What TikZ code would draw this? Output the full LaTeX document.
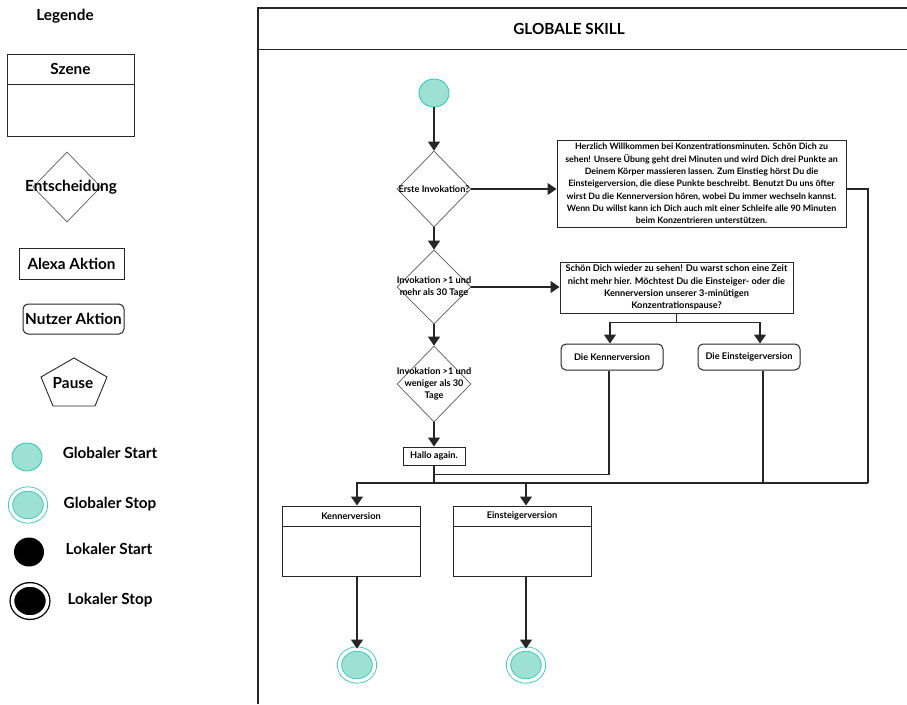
\documentclass[tikz,border=0pt]{standalone}
\usepackage{fontspec}
\setmainfont{Lato}
\usepackage{xcolor}
\usetikzlibrary{positioning,shapes.geometric,arrows.meta}

\definecolor{mint}{RGB}{156,225,212}
\definecolor{tuerkis}{RGB}{38,200,180}
\newcommand{\klein}{\fontsize{9.2}{12.3}\selectfont\bfseries}
\newcommand{\fliess}{\fontsize{8.8}{12.3}\selectfont\bfseries}
\newcommand{\gross}{\fontsize{15.3}{17}\selectfont\bfseries}

\tikzset{
  linie/.style={draw=black!85,line width=1.3pt},
  pfeil/.style={linie,-{Triangle[width=12pt,length=9pt]}},
  szene/.style={draw=black!85,line width=1pt,inner sep=0pt},
  alexa/.style={draw=black!85,line width=1pt,inner sep=0pt,align=center},
  nutzer/.style={alexa,rounded corners=5pt},
  entscheidung/.style={diamond,draw=black!65,line width=0.7pt,inner sep=0pt},
  gstart/.style={ellipse,draw=tuerkis,fill=mint,line width=0.8pt,inner sep=0pt},
  gstop/.style={gstart,double=white,double distance=3.5pt},
  lstart/.style={ellipse,fill=black,inner sep=0pt},
  lstop/.style={ellipse,draw=black,fill=black,line width=1.3pt,double=white,double distance=3.5pt,inner sep=0pt}
}

\begin{document}
\begin{tikzpicture}[x=1pt,y=-1pt]
\useasboundingbox (0,0) rectangle (907,704);

% Legende
\node[font=\gross] (legende) at (65,16) {Legende};
\node[szene,minimum width=127,minimum height=82] (lszene) at (70.5,95) {};
\node[szene,anchor=north,minimum width=127,minimum height=30,font=\gross] (lszenekopf) at (lszene.north) {Szene};
\node[entscheidung,minimum width=68,minimum height=70,
      label={[font=\gross,xshift=4pt]center:Entscheidung}] (lentsch) at (67,187) {};
\node[alexa,minimum width=105,minimum height=31,font=\gross] (lalexa) at (71.5,263.5) {Alexa Aktion};
\node[nutzer,minimum width=101,minimum height=30,font=\gross] (lnutzer) at (73.5,319) {Nutzer Aktion};
\draw[black!85,line width=0.9pt] (74,358) -- (107,377) -- (95,406) -- (53,406) -- (41,377) -- cycle;
\node[font=\gross] (lpause) at (73,383) {Pause};
\node[gstart,minimum width=30,minimum height=28] (lgstart) at (27,457) {};
\node[gstop,minimum width=35,minimum height=32] (lgstop) at (28,505) {};
\node[lstart,minimum width=30,minimum height=29] (llstart) at (29,552) {};
\node[lstop,minimum width=35,minimum height=32] (llstop) at (30,601) {};
\node[font=\gross] (tgstart) at (110,453) {Globaler Start};
\node[font=\gross] (tgstop) at (110,504) {Globaler Stop};
\node[font=\gross] (tlstart) at (109,549) {Lokaler Start};
\node[font=\gross] (tlstop) at (110,600) {Lokaler Stop};

% Rahmen
\draw[black!85,line width=1.3pt] (258,704) -- (258,8) -- (907,8);
\draw[black!85,line width=1pt] (258,49) -- (907,49);
\node[font=\gross] (titel) at (569,29) {GLOBALE SKILL};

% Ablauf
\node[gstart,minimum width=30,minimum height=28] (start) at (434,93) {};
\node[entscheidung,minimum width=74,minimum height=76,
      label={[font=\klein]center:Erste Invokation?}] (d1) at (434,189) {};
\node[entscheidung,minimum width=74,minimum height=74,
      label={[font=\klein,align=center]center:{Invokation >1 und\\mehr als 30 Tage}}] (d2) at (434,287) {};
\node[entscheidung,minimum width=74,minimum height=76,
      label={[font=\klein,align=center]center:{Invokation >1 und\\weniger als 30\\Tage}}] (d3) at (434,384) {};
\node[alexa,minimum width=62,minimum height=18,font=\klein] (hallo) at (434,456) {Hallo again.};

\node[alexa,minimum width=289,minimum height=87,font=\fliess] (b1) at (701.5,183.5)
  {Herzlich Willkommen bei Konzentrationsminuten. Schön Dich zu\\
   sehen! Unsere Übung geht drei Minuten und wird Dich drei Punkte an\\
   Deinem Körper massieren lassen. Zum Einstieg hörst Du die\\
   Einsteigerversion, die diese Punkte beschreibt. Benutzt Du uns öfter\\
   wirst Du die Kennerversion hören, wobei Du immer wechseln kannst.\\
   Wenn Du willst kann ich Dich auch mit einer Schleife alle 90 Minuten\\
   beim Konzentrieren unterstützen.};
\node[alexa,minimum width=233,minimum height=51,font=\klein] (b2) at (676.5,287.5)
  {Schön Dich wieder zu sehen! Du warst schon eine Zeit\\
   nicht mehr hier. Möchtest Du die Einsteiger- oder die\\
   Kennerversion unserer 3-minütigen\\
   Konzentrationspause?};
\node[nutzer,minimum width=102,minimum height=26,font=\klein] (kenn) at (612,357) {Die Kennerversion};
\node[nutzer,minimum width=102,minimum height=26,font=\klein] (einst) at (749,357) {Die Einsteigerversion};

\node[szene,minimum width=138,minimum height=70] (kszene) at (351,541) {};
\node[szene,anchor=north,minimum width=138,minimum height=20,font=\klein] (kszenekopf) at (kszene.north) {Kennerversion};
\node[szene,minimum width=138,minimum height=70] (eszene) at (522,541) {};
\node[szene,anchor=north,minimum width=138,minimum height=20,font=\klein] (eszenekopf) at (eszene.north) {Einsteigerversion};
\node[gstop,minimum width=35,minimum height=32] (kstop) at (357,665) {};
\node[gstop,minimum width=35,minimum height=32] (estop) at (526,665) {};

\coordinate (sammel) at (868,483);

\draw[pfeil] (start) -- (d1);
\draw[pfeil] (d1) -- (d2);
\draw[pfeil] (d2) -- (d3);
\draw[pfeil] (d3) -- (hallo);
\draw[pfeil] (d1) -- (d1 -| b1.west);
\draw[pfeil] (d2) -- (d2 -| b2.west);
\draw[linie] (b1.east |- d1) -| (sammel);
\draw[linie] (b2.south) -- ++(0,9) coordinate (gabel);
\draw[pfeil] (gabel) -| ([xshift=-2pt]kenn.north);
\draw[pfeil] (gabel) -| ([xshift=11pt]einst.north);
\draw[linie] ([xshift=-3pt]kenn.south) |- ([yshift=-9pt]hallo.south);
\draw[linie] (hallo.south) -- (hallo.south |- sammel);
\draw[linie] ([xshift=14pt]einst.south) -- ([xshift=14pt]einst.south |- sammel);
\draw[pfeil] (sammel) -| (kstop |- kszene.north);
\draw[pfeil] (estop |- sammel) -- (estop |- eszene.north);
\draw[pfeil] (kstop |- kszene.south) -- (kstop);
\draw[pfeil] (estop |- eszene.south) -- (estop);
\end{tikzpicture}
\end{document}
